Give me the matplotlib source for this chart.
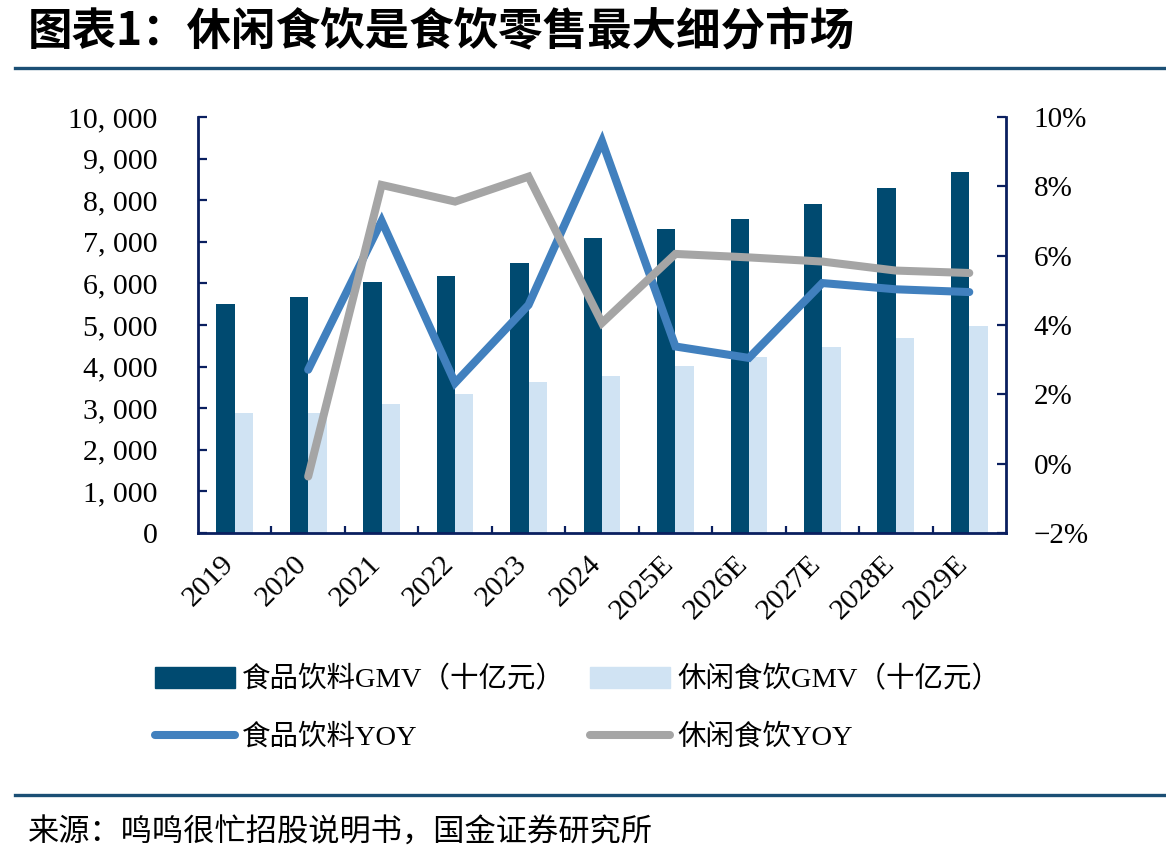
import numpy as np
import matplotlib
matplotlib.use("Agg")
import matplotlib.pyplot as plt
from matplotlib.ticker import FuncFormatter, FixedLocator
from matplotlib.transforms import ScaledTranslation
from matplotlib.lines import Line2D
from matplotlib.patches import Patch

plt.rcParams['font.family'] = ['Liberation Serif', 'Noto Sans CJK SC', 'DejaVu Sans']

years = ['2019', '2020', '2021', '2022', '2023', '2024',
         '2025E', '2026E', '2027E', '2028E', '2029E']
# GMV, billion yuan
food_gmv = [5505, 5670, 6030, 6180, 6480, 7080, 7310, 7550, 7910, 8290, 8680]
snack_gmv = [2880, 2880, 3100, 3340, 3620, 3770, 4010, 4220, 4460, 4680, 4970]
# YoY, %  (no value for 2019)
food_yoy = [np.nan, 2.71, 7.0, 2.33, 4.58, 9.3, 3.38, 3.05, 5.21, 5.03, 4.95]
snack_yoy = [np.nan, -0.37, 8.04, 7.56, 8.28, 4.06, 6.05, 5.95, 5.83, 5.57, 5.50]

labels = ['食品饮料GMV（十亿元）', '休闲食饮GMV（十亿元）', '食品饮料YOY', '休闲食饮YOY']

dark = '#004A70'
light = '#D0E3F3'
blue = '#4180BE'
grey = '#A5A5A5'
navy = '#0A1F5F'
rule = '#1B4F75'

fig = plt.figure(figsize=(11.66, 8.66), dpi=100)
ax = fig.add_axes([198 / 1166, 1 - 533 / 866, (1006 - 198) / 1166, (533 - 117) / 866])
ax2 = ax.twinx()

x = np.arange(len(years))
w = 0.25
ax.bar(x - w / 2, food_gmv, w, color=dark, zorder=2)
ax.bar(x + w / 2, snack_gmv, w, color=light, zorder=2)

ax2.plot(x, food_yoy, color=blue, lw=5.8, solid_capstyle='round', solid_joinstyle='miter')
ax2.plot(x, snack_yoy, color=grey, lw=5.8, solid_capstyle='round', solid_joinstyle='miter')

# left axis
ax.set_xlim(-0.5, len(years) - 0.5)
ax.set_ylim(0, 10000)
ax.set_yticks(np.arange(0, 10001, 1000))
ax.yaxis.set_major_formatter(FuncFormatter(lambda v, p: f"{v:,.0f}".replace(",", ", ")))
ax.tick_params(axis='y', direction='in', length=6.5, width=1.6, color=navy,
               labelsize=21.5, pad=29)
ax.set_xticks(x)
ax.set_xticklabels(years, rotation=45, ha='right', va='top', fontsize=21.5)
ax.tick_params(axis='x', which='major', length=0, pad=13)
ax.xaxis.set_minor_locator(FixedLocator(np.arange(0.5, len(years) - 1, 1)))
ax.tick_params(axis='x', which='minor', direction='in', length=5, width=1.6, color=navy)
for lab in ax.get_xticklabels():
    lab.set_transform(lab.get_transform() + ScaledTranslation(0.04, 0, fig.dpi_scale_trans))

for s in ['top', 'right']:
    ax.spines[s].set_visible(False)
for s in ['left', 'bottom']:
    ax.spines[s].set_color(navy)
    ax.spines[s].set_linewidth(2)

# right axis
ax2.set_ylim(-2, 10)
ax2.set_yticks(np.arange(-2, 10.1, 2))
ax2.yaxis.set_major_formatter(FuncFormatter(lambda v, p: f"{v:.0f}%".replace("-", "−")))
ax2.tick_params(axis='y', direction='in', length=6.5, width=1.6, color=navy,
                labelsize=21, pad=20)
for s in ['top', 'left', 'bottom']:
    ax2.spines[s].set_visible(False)
ax2.spines['right'].set_color(navy)
ax2.spines['right'].set_linewidth(2)

# legend (filled row by row)
handles = [Patch(color=dark), Line2D([], [], color=blue, lw=5.8, solid_capstyle='round'),
           Patch(color=light), Line2D([], [], color=grey, lw=5.8, solid_capstyle='round')]
order = [labels[0], labels[2], labels[1], labels[3]]
fig.legend(handles, order, loc='upper left', bbox_to_anchor=(155 / 1166, 1 - 666 / 866),
           ncol=2, frameon=False, fontsize=20.5, handlelength=2.8, handleheight=0.75,
           handletextpad=0.25, columnspacing=0.9, labelspacing=1.1, borderpad=0,
           borderaxespad=0)

# title, rules, source
fig.text(28 / 1166, 1 - 32 / 866, '图表1：休闲食饮是食饮零售最大细分市场',
         fontsize=32, fontweight='bold', va='center', ha='left',
         family=['Noto Sans CJK SC', 'DejaVu Sans'])
fig.add_artist(Line2D([15 / 1166, 1], [1 - 68 / 866] * 2, color=rule, lw=2.4))
fig.add_artist(Line2D([15 / 1166, 1], [1 - 795 / 866] * 2, color=rule, lw=2.4))
fig.text(28 / 1166, 1 - 833 / 866, '来源：鸣鸣很忙招股说明书，国金证券研究所',
         fontsize=22.5, va='center', ha='left', family=['Noto Sans CJK SC', 'DejaVu Sans'])

fig.savefig('out.png', dpi=100)
